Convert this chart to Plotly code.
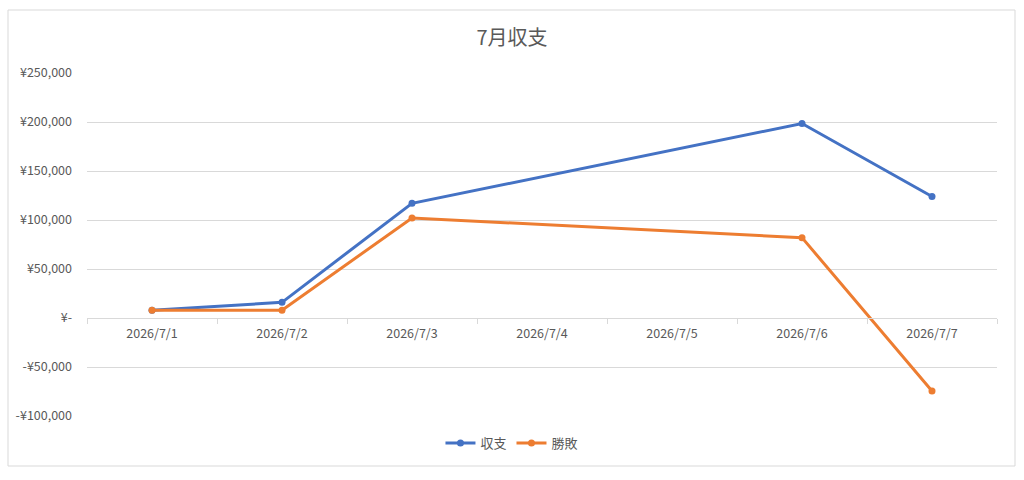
import plotly.graph_objects as go

categories = ["2026/7/1", "2026/7/2", "2026/7/3", "2026/7/4", "2026/7/5", "2026/7/6", "2026/7/7"]
income = [8000, 16000, 117000, None, None, 198500, 124000]
winloss = [8000, 8000, 102000, None, None, 82000, -74500]
ytick_vals = [-100000, -50000, 0, 50000, 100000, 150000, 200000, 250000]
ytick_text = ["-¥100,000", "-¥50,000", "¥-", "¥50,000", "¥100,000", "¥150,000", "¥200,000", "¥250,000"]

FONT = "Noto Sans CJK JP, Noto Sans, sans-serif"
GRAY = "#595959"

fig = go.Figure()
fig.add_trace(go.Scatter(x=categories, y=income, name="収支", mode="lines+markers",
                         connectgaps=True,
                         line=dict(color="#4472C4", width=3),
                         marker=dict(color="#4472C4", size=7)))
fig.add_trace(go.Scatter(x=categories, y=winloss, name="勝敗", mode="lines+markers",
                         connectgaps=True,
                         line=dict(color="#ED7D31", width=3),
                         marker=dict(color="#ED7D31", size=7)))

ymin, ymax = -100000, 250000
zero_pos = (0 - ymin) / (ymax - ymin)

fig.update_layout(
    width=1024, height=480,
    margin=dict(l=87, r=27, t=73, b=64),
    paper_bgcolor="white", plot_bgcolor="white",
    font=dict(family=FONT, color=GRAY, size=12),
    title=dict(text="7月収支", x=0.5, xanchor="center", y=1 - 38 / 480, yanchor="middle",
               font=dict(family=FONT, size=20, color=GRAY)),
    showlegend=True,
    legend=dict(orientation="h", x=0.467, xanchor="center", y=-0.079, yanchor="middle",
                font=dict(family=FONT, size=13, color=GRAY), bgcolor="rgba(0,0,0,0)",
                itemwidth=30),
    xaxis=dict(type="category", categoryorder="array", categoryarray=categories,
               range=[-0.5, 6.5], anchor="free", position=zero_pos,
               showline=True, linecolor="#d9d9d9", linewidth=1,
               ticks="outside", tickson="boundaries", ticklen=5, tickcolor="#d9d9d9",
               ticklabelstandoff=4,
               showgrid=False, zeroline=False,
               tickfont=dict(family=FONT, size=12.5, color=GRAY)),
    yaxis=dict(range=[ymin, ymax], tickvals=ytick_vals, ticktext=ytick_text,
               showgrid=True, gridcolor="#d9d9d9", gridwidth=1,
               zeroline=False, showline=False, ticks="",
               ticklabelstandoff=14,
               tickfont=dict(family=FONT, size=12.5, color=GRAY)),
    shapes=[dict(type="rect", xref="paper", yref="paper",
                 x0=(8 - 87) / 910, x1=(1015 - 87) / 910,
                 y0=(416 - 466) / 343, y1=(416 - 10) / 343,
                 line=dict(color="#d9d9d9", width=1), layer="below")],
)

fig.write_html("out.html")
